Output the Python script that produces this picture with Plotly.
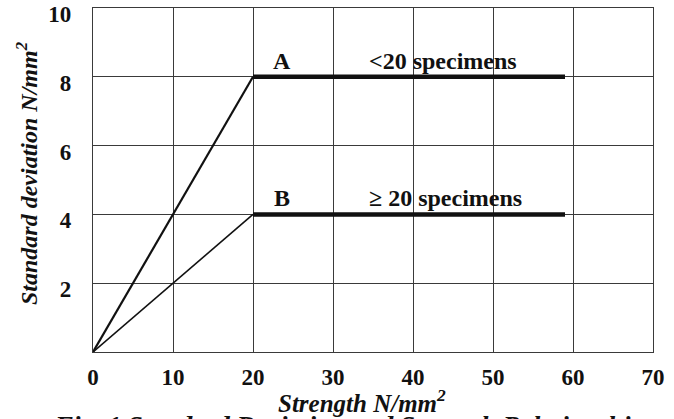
import plotly.graph_objects as go

# Standard deviation vs. strength relationship
strength_a = [0, 20]
sd_a = [0, 8]
plateau_a_x = [20, 59]
plateau_a_y = [8, 8]

strength_b = [0, 20]
sd_b = [0, 4]
plateau_b_x = [20, 59]
plateau_b_y = [4, 4]

x_ticks = [0, 10, 20, 30, 40, 50, 60, 70]
y_ticks = [2, 4, 6, 8, 10]

SERIF = "Times New Roman"
INK = "#111111"
GRID = "#3a3a3a"

fig = go.Figure()

fig.add_trace(go.Scatter(x=strength_a, y=sd_a, mode="lines",
                         line=dict(color=INK, width=2.2), showlegend=False, hoverinfo="skip"))
fig.add_trace(go.Scatter(x=strength_b, y=sd_b, mode="lines",
                         line=dict(color=INK, width=1.6), showlegend=False, hoverinfo="skip"))
fig.add_trace(go.Scatter(x=plateau_a_x, y=plateau_a_y, mode="lines",
                         line=dict(color=INK, width=4.5), showlegend=False, hoverinfo="skip"))
fig.add_trace(go.Scatter(x=plateau_b_x, y=plateau_b_y, mode="lines",
                         line=dict(color=INK, width=4.5), showlegend=False, hoverinfo="skip"))

label_font = dict(family=SERIF, size=24, color=INK)
labels = [
    (23.6, 8.0, "<b>A</b>"),
    (43.7, 8.0, "<b>&lt;20 specimens</b>"),
    (23.6, 4.0, "<b>B</b>"),
    (44.0, 4.0, "<b>≥ 20 specimens</b>"),
]
for lx, ly, txt in labels:
    fig.add_annotation(x=lx, y=ly, text=txt, showarrow=False, font=label_font,
                       xanchor="center", yanchor="bottom", yshift=1)

# axis titles and figure caption
fig.add_annotation(xref="x", yref="paper", x=33.6, y=-0.142, yanchor="middle",
                   text="<b><i>Strength N/mm<sup>2</sup></i></b>", showarrow=False,
                   font=dict(family=SERIF, size=25, color=INK))
fig.add_annotation(xref="x", yref="paper", x=32.0, y=-0.165, yanchor="top",
                   text="<b><i>Fig. 1 Standard Deviation and Strength Relationship</i></b>",
                   showarrow=False, font=dict(family=SERIF, size=27, color=INK))
fig.add_annotation(xref="paper", yref="y", x=-0.118, y=5.2, xanchor="center",
                   text="<b><i>Standard deviation N/mm<sup>2</sup></i></b>", textangle=-90,
                   showarrow=False, font=dict(family=SERIF, size=24, color=INK))

axis_common = dict(showgrid=True, gridcolor=GRID, gridwidth=1.4, zeroline=False,
                   showline=True, linecolor=GRID, linewidth=1.4, mirror=True,
                   ticks="", ticklabeloverflow="allow", automargin=False,
                   tickfont=dict(family=SERIF, size=23, color=INK))

fig.update_xaxes(range=[0, 70], tickvals=x_ticks, ticktext=[f"<b>{v}</b>" for v in x_ticks],
                 ticklabelstandoff=4, **axis_common)
fig.update_yaxes(range=[0, 10], tickvals=y_ticks, ticktext=[f"<b>{v}</b>" for v in y_ticks],
                 ticklabelstandoff=16, ticklabelshift=6, **axis_common)

fig.update_layout(width=674, height=419, margin=dict(l=93, r=21, t=8, b=67, autoexpand=False),
                  plot_bgcolor="white", paper_bgcolor="white", showlegend=False)

fig.write_html("out.html")
